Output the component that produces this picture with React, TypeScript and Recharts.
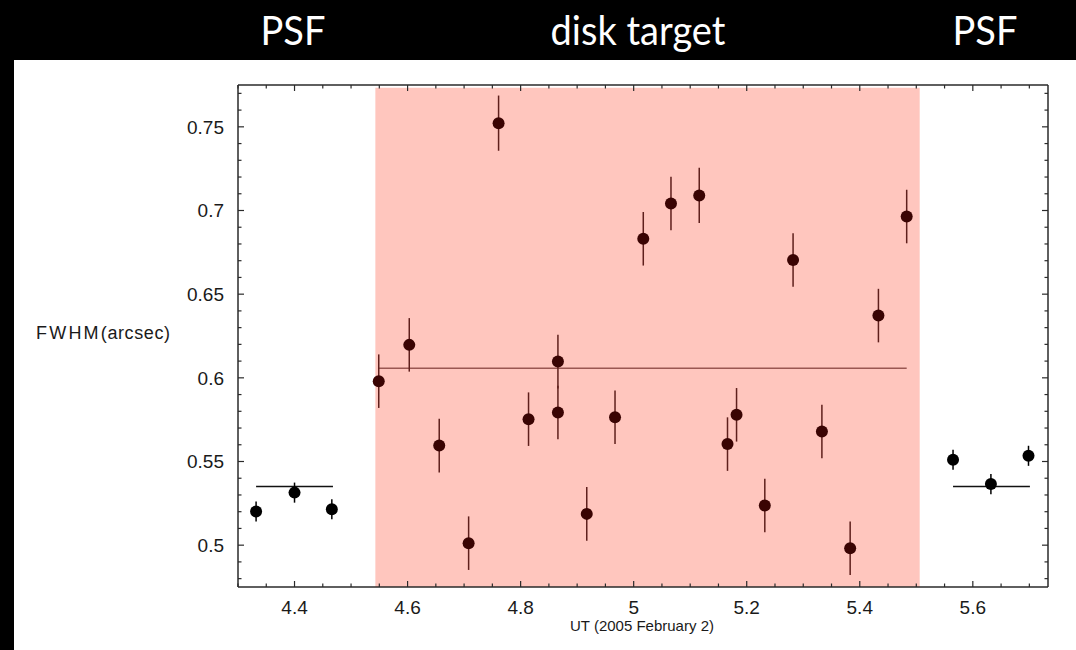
import React from "react";
import {
  ScatterChart,
  Scatter,
  XAxis,
  YAxis,
  ErrorBar,
  ReferenceArea,
  ReferenceLine,
} from "recharts";

// ─── data ────────────────────────────────────────────────────────────────────
// UT (hours) and FWHM (arcsec)

const psfLeftUt = [4.332, 4.4, 4.466];
const psfLeftFwhm = [0.5201, 0.5314, 0.5215];
const psfLeftErr = [0.006, 0.006, 0.006];

const diskUt = [
  4.549, 4.603, 4.656, 4.708, 4.761, 4.814, 4.866, 4.866, 4.917, 4.967, 5.017,
  5.066, 5.116, 5.166, 5.182, 5.232, 5.282, 5.333, 5.383, 5.433, 5.483,
];
const diskFwhm = [
  0.598, 0.6197, 0.5595, 0.5012, 0.7522, 0.5753, 0.6097, 0.5793, 0.5187, 0.5765,
  0.6831, 0.7042, 0.709, 0.5604, 0.5779, 0.5237, 0.6704, 0.5679, 0.4982, 0.6372,
  0.6964,
];
const diskErr = [
  0.016, 0.016, 0.016, 0.016, 0.0165, 0.016, 0.016, 0.016, 0.016, 0.016, 0.016,
  0.016, 0.0165, 0.016, 0.016, 0.016, 0.016, 0.016, 0.016, 0.016, 0.016,
];

const psfRightUt = [5.565, 5.632, 5.6985];
const psfRightFwhm = [0.551, 0.5365, 0.5534];
const psfRightErr = [0.006, 0.006, 0.006];

// mean levels: [ut start, ut end, fwhm]
const psfLeftMean = [4.332, 4.468, 0.535];
const diskMean = [4.549, 5.483, 0.6058];
const psfRightMean = [5.565, 5.701, 0.535];

// shaded window where the disk target was observed
const diskWindow = [4.543, 5.506, 0.7733];

const xDomain = [4.3, 5.733];
const yDomain = [0.475, 0.775];
const xTicks = Array.from({ length: 29 }, (_, i) => (430 + 5 * i) / 100);
const yTicks = Array.from({ length: 30 }, (_, i) => (48 + i) / 100);

const titles = ["PSF", "disk target", "PSF"];

// ─── helpers ─────────────────────────────────────────────────────────────────

const toPoints = (ut: number[], fwhm: number[], err: number[]) =>
  ut.map((u, i) => ({ ut: u, fwhm: fwhm[i], err: err[i] }));

const psfLeft = toPoints(psfLeftUt, psfLeftFwhm, psfLeftErr);
const disk = toPoints(diskUt, diskFwhm, diskErr);
const psfRight = toPoints(psfRightUt, psfRightFwhm, psfRightErr);

const FONT = "'Liberation Sans', Arial, Helvetica, sans-serif";
const FRAME = "#2a2a2a";
const X_MARGIN = 13;
const Y_MARGIN = 14;

const isMajorX = (v: number) => Math.round(v * 100) % 20 === 0;
const isMajorY = (v: number) => Math.round(v * 100) % 5 === 0;
const fmt = (v: number) => String(parseFloat(v.toFixed(2)));

// frame ticks point inward, like the original plot
function BottomTick({ x, y, payload }: any) {
  const v = payload.value;
  const major = isMajorX(v);
  const base = y - X_MARGIN;
  return (
    <g>
      <line x1={x} x2={x} y1={base} y2={base - (major ? 6 : 3.5)} stroke={FRAME} strokeWidth={1.2} />
      {major && (
        <text x={x} y={base + 27} textAnchor="middle" fontFamily={FONT} fontSize={19} fill="#1a1a1a">
          {fmt(v)}
        </text>
      )}
    </g>
  );
}

function TopTick({ x, y, payload }: any) {
  const major = isMajorX(payload.value);
  return <line x1={x} x2={x} y1={y} y2={y + (major ? 6 : 3.5)} stroke={FRAME} strokeWidth={1.2} />;
}

function LeftTick({ x, y, payload }: any) {
  const v = payload.value;
  const major = isMajorY(v);
  const base = x + Y_MARGIN;
  return (
    <g>
      <line x1={base} x2={base + (major ? 6 : 3.5)} y1={y} y2={y} stroke={FRAME} strokeWidth={1.2} />
      {major && (
        <text x={x} y={y} dy="0.36em" textAnchor="end" fontFamily={FONT} fontSize={19} fill="#1a1a1a">
          {fmt(v)}
        </text>
      )}
    </g>
  );
}

function RightTick({ x, y, payload }: any) {
  const major = isMajorY(payload.value);
  return <line x1={x} x2={x - (major ? 6 : 3.5)} y1={y} y2={y} stroke={FRAME} strokeWidth={1.2} />;
}

const dot = (fill: string) => (p: any) => <circle cx={p.cx} cy={p.cy} r={6} fill={fill} />;

// ─── chart ───────────────────────────────────────────────────────────────────

export default function App() {
  const titleX = [293, 638, 985];
  return (
    <div style={{ position: "absolute", left: 0, top: 0, width: 1076, height: 650, background: "#000", overflow: "hidden" }}>
      {titles.map((t, i) => (
        <div
          key={i}
          style={{
            position: "absolute",
            left: titleX[i] - 150,
            width: 300,
            top: 5,
            textAlign: "center",
            color: "#fff",
            fontFamily: "Lato, 'Open Sans', sans-serif",
            fontSize: 38,
            lineHeight: "48px",
            transform: "scaleY(1.08)",
          }}
        >
          {t}
        </div>
      ))}
      <div style={{ position: "absolute", left: 14, top: 60, width: 1062, height: 590, background: "#fff" }}>
        <ScatterChart width={1062} height={590} margin={{ top: 24, right: 27, bottom: 23, left: 154 }}>
          <ReferenceArea
            x1={diskWindow[0]}
            x2={diskWindow[1]}
            y1={yDomain[0]}
            y2={diskWindow[2]}
            fill="#ffc6be"
            fillOpacity={1}
            stroke="none"
            ifOverflow="hidden"
          />
          <XAxis
            type="number"
            dataKey="ut"
            domain={xDomain}
            ticks={xTicks}
            interval={0}
            allowDataOverflow
            height={40}
            tickSize={0}
            tickMargin={X_MARGIN}
            tick={(p: any) => <BottomTick {...p} />}
            axisLine={{ stroke: FRAME, strokeWidth: 1.5 }}
          />
          <XAxis
            xAxisId="top"
            orientation="top"
            type="number"
            dataKey="ut"
            domain={xDomain}
            ticks={xTicks}
            interval={0}
            allowDataOverflow
            height={1}
            tickSize={0}
            tickMargin={0}
            tick={(p: any) => <TopTick {...p} />}
            axisLine={{ stroke: FRAME, strokeWidth: 1.5 }}
          />
          <YAxis
            type="number"
            dataKey="fwhm"
            domain={yDomain}
            ticks={yTicks}
            interval={0}
            allowDataOverflow
            width={70}
            tickSize={0}
            tickMargin={Y_MARGIN}
            tick={(p: any) => <LeftTick {...p} />}
            axisLine={{ stroke: FRAME, strokeWidth: 1.5 }}
          />
          <YAxis
            yAxisId="right"
            orientation="right"
            type="number"
            dataKey="fwhm"
            domain={yDomain}
            ticks={yTicks}
            interval={0}
            allowDataOverflow
            width={1}
            tickSize={0}
            tickMargin={0}
            tick={(p: any) => <RightTick {...p} />}
            axisLine={{ stroke: FRAME, strokeWidth: 1.5 }}
          />
          <ReferenceLine
            segment={[{ x: psfLeftMean[0], y: psfLeftMean[2] }, { x: psfLeftMean[1], y: psfLeftMean[2] }]}
            stroke="#111"
            strokeWidth={1.5}
          />
          <ReferenceLine
            segment={[{ x: diskMean[0], y: diskMean[2] }, { x: diskMean[1], y: diskMean[2] }]}
            stroke="#9a5752"
            strokeWidth={1.5}
          />
          <ReferenceLine
            segment={[{ x: psfRightMean[0], y: psfRightMean[2] }, { x: psfRightMean[1], y: psfRightMean[2] }]}
            stroke="#111"
            strokeWidth={1.5}
          />
          <Scatter data={psfLeft} dataKey="fwhm" shape={dot("#000")} isAnimationActive={false}>
            <ErrorBar dataKey="err" direction="y" width={0} stroke="#000" strokeWidth={1.5} isAnimationActive={false} />
          </Scatter>
          <Scatter data={disk} dataKey="fwhm" shape={dot("#3a0403")} isAnimationActive={false}>
            <ErrorBar dataKey="err" direction="y" width={0} stroke="#5e1f1c" strokeWidth={1.5} isAnimationActive={false} />
          </Scatter>
          <Scatter data={psfRight} dataKey="fwhm" shape={dot("#000")} isAnimationActive={false}>
            <ErrorBar dataKey="err" direction="y" width={0} stroke="#000" strokeWidth={1.5} isAnimationActive={false} />
          </Scatter>
        </ScatterChart>
      </div>
      <div
        style={{
          position: "absolute",
          left: 36,
          top: 323,
          fontFamily: FONT,
          fontSize: 18,
          color: "#1a1a1a",
          whiteSpace: "nowrap",
        }}
      >
        <span style={{ letterSpacing: 2.2 }}>FWHM</span>
        <span style={{ letterSpacing: 0.6 }}>(arcsec)</span>
      </div>
      <div
        style={{
          position: "absolute",
          left: 492,
          width: 300,
          top: 617,
          textAlign: "center",
          fontFamily: FONT,
          fontSize: 15,
          color: "#1a1a1a",
        }}
      >
        UT (2005 February 2)
      </div>
    </div>
  );
}
